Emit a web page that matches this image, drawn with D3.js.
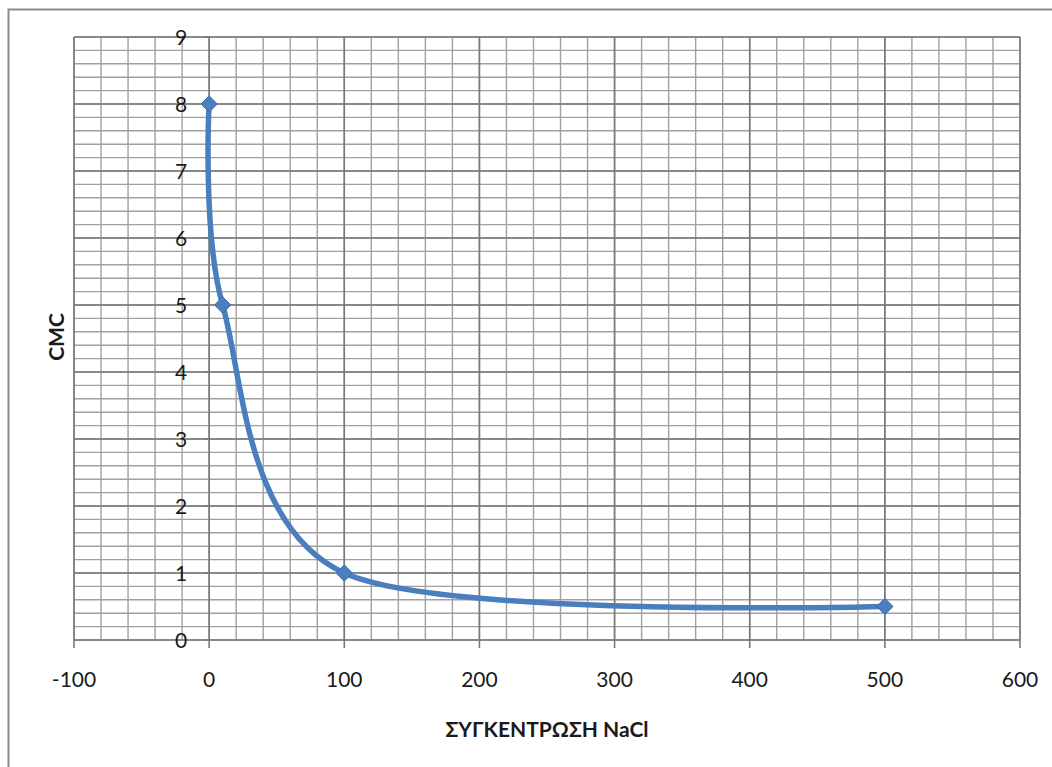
<!DOCTYPE html>
<html><head><meta charset="utf-8">
<script src="https://cdn.jsdelivr.net/npm/d3@7"></script>
<style>body{margin:0;background:#fff;} text{font-family:Lato,"Open Sans",sans-serif;}</style>
</head><body><svg id="c" width="1052" height="767"></svg>
<script>
const xValues = [0, 10, 100, 500];
const cmcValues = [8, 5, 1, 0.5];
const xTicks = [-100, 0, 100, 200, 300, 400, 500, 600];
const yTicks = [0, 1, 2, 3, 4, 5, 6, 7, 8, 9];
const xTitle = "ΣΥΓΚΕΝΤΡΩΣΗ NaCl";
const yTitle = "CMC";

const svg = d3.select("#c");
const x = d3.scaleLinear().domain([-100, 600]).range([74, 1020]);
const y = d3.scaleLinear().domain([0, 9]).range([640, 37]);

// outer frame
svg.append("rect").attr("x", 8.5).attr("y", 9.5).attr("width", 1060).attr("height", 800)
  .attr("fill", "none").attr("stroke", "#8c8c8c").attr("stroke-width", 2);

const g = svg.append("g");
// minor grid
const xMinor = d3.range(-100, 600.1, 20);
const yMinor = d3.range(0, 9.01, 0.2);
g.selectAll(".vm").data(xMinor).join("line")
  .attr("x1", d => x(d)).attr("x2", d => x(d)).attr("y1", y(0)).attr("y2", y(9))
  .attr("stroke", "#a0a0a0").attr("stroke-width", 1.4);
g.selectAll(".hm").data(yMinor).join("line")
  .attr("x1", x(-100)).attr("x2", x(600)).attr("y1", d => y(d)).attr("y2", d => y(d))
  .attr("stroke", "#a0a0a0").attr("stroke-width", 1.4);
// major grid
g.selectAll(".vM").data(xTicks).join("line")
  .attr("x1", d => x(d)).attr("x2", d => x(d)).attr("y1", y(0)).attr("y2", y(9))
  .attr("stroke", "#7a7a7a").attr("stroke-width", 1.6);
g.selectAll(".hM").data(yTicks).join("line")
  .attr("x1", x(-100)).attr("x2", x(600)).attr("y1", d => y(d)).attr("y2", d => y(d))
  .attr("stroke", "#7a7a7a").attr("stroke-width", 1.6);

// x axis ticks & labels
g.selectAll(".xt").data(xTicks).join("line")
  .attr("x1", d => x(d)).attr("x2", d => x(d)).attr("y1", y(0)).attr("y2", y(0) + 8)
  .attr("stroke", "#7a7a7a").attr("stroke-width", 1.6);
g.selectAll(".xl").data(xTicks).join("text")
  .attr("x", d => x(d)).attr("y", 687).attr("text-anchor", "middle")
  .attr("font-size", 21).attr("fill", "#1a1a1a").text(d => d);
// y axis at x=0
g.selectAll(".yt").data(yTicks).join("line")
  .attr("x1", x(0) - 6).attr("x2", x(0)).attr("y1", d => y(d)).attr("y2", d => y(d))
  .attr("stroke", "#7a7a7a").attr("stroke-width", 1.6);
g.selectAll(".yl").data(yTicks).join("text")
  .attr("x", x(0) - 22).attr("y", d => y(d) + 8).attr("text-anchor", "end")
  .attr("font-size", 21).attr("fill", "#1a1a1a").text(d => d);

// titles
svg.append("text").attr("x", 547).attr("y", 737).attr("text-anchor", "middle")
  .attr("font-size", 21).attr("font-weight", "bold").attr("fill", "#1a1a1a").text(xTitle);
svg.append("text").attr("transform", "translate(64,337) rotate(-90)").attr("text-anchor", "middle")
  .attr("font-size", 21).attr("font-weight", "bold").attr("fill", "#1a1a1a").text(yTitle);

// series
const pts = xValues.map((v, i) => [v, cmcValues[i]]);
const line = d3.line().x(d => x(d[0])).y(d => y(d[1])).curve(d3.curveCardinal.tension(0.1));
svg.append("path").datum(pts).attr("d", line).attr("fill", "none")
  .attr("stroke", "#4a7ebf").attr("stroke-width", 5.5).attr("stroke-linejoin", "round");
svg.selectAll(".mk").data(pts).join("path")
  .attr("transform", d => `translate(${x(d[0])},${y(d[1])})`)
  .attr("d", d3.symbol(d3.symbolDiamond2, 170))
  .attr("fill", "#4a7ebf").attr("stroke", "#3f70ad").attr("stroke-width", 1);
</script></body></html>
